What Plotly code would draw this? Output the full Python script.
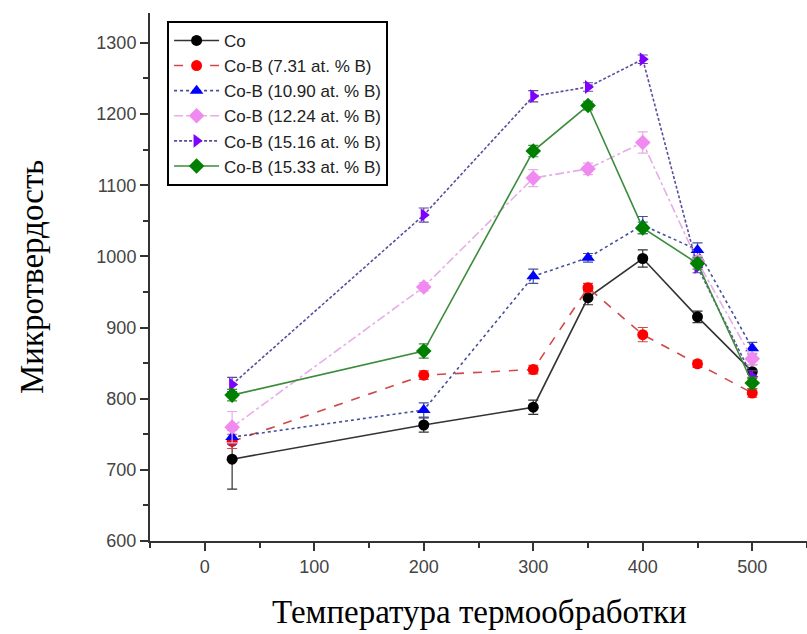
import plotly.graph_objects as go

temps = [25, 200, 300, 350, 400, 450, 500]

names = ["Co", "Co-B (7.31 at. % B)", "Co-B (10.90 at. % B)", "Co-B (12.24 at. % B)",
         "Co-B (15.16 at. % B)", "Co-B (15.33 at. % B)"]

co = [715, 763, 788, 942, 997, 915, 838]
co_err = [42, 10, 10, 10, 12, 8, 10]

cob_731 = [740, 833, 841, 956, 890, 849, 808]
cob_731_err = [10, 6, 6, 6, 10, 5, 6]

cob_1090 = [746, 784, 972, 998, 1044, 1009, 871]
cob_1090_err = [10, 10, 10, 6, 12, 10, 8]

cob_1224 = [760, 957, 1110, 1123, 1160, 993, 856]
cob_1224_err = [22, 6, 12, 8, 15, 8, 8]

cob_1516 = [820, 1058, 1225, 1238, 1277, 985, 831]
cob_1516_err = [10, 10, 8, 6, 6, 8, 8]

cob_1533 = [805, 867, 1148, 1212, 1040, 990, 822]
cob_1533_err = [8, 10, 8, 6, 8, 8, 8]

x_ticks = [0, 100, 200, 300, 400, 500]
y_ticks = [600, 700, 800, 900, 1000, 1100, 1200, 1300]

series = [
    (names[0], co, co_err, "#333333", "solid", "#000000", "circle", 11),
    (names[1], cob_731, cob_731_err, "#d04848", "dash", "#ff0000", "circle", 11),
    (names[2], cob_1090, cob_1090_err, "#44509a", "dot", "#0000ff", "triangle-up", 12),
    (names[3], cob_1224, cob_1224_err, "#e6aee6", "dashdot", "#f08af0", "diamond", 12),
    (names[4], cob_1516, cob_1516_err, "#5c4c9c", "3px,2px", "#8000ff", "triangle-right", 12),
    (names[5], cob_1533, cob_1533_err, "#3c8c3c", "solid", "#008000", "diamond", 12),
]

fig = go.Figure()
for name, vals, errs, lcol, dash, mcol, sym, msz in series:
    fig.add_trace(go.Scatter(
        x=temps, y=vals, name=name, mode="lines+markers",
        line=dict(color=lcol, width=1.6, dash=dash),
        marker=dict(color=mcol, symbol=sym, size=msz, line=dict(width=0)),
        error_y=dict(type="data", array=errs, visible=True, color=lcol,
                     thickness=1.2, width=5),
    ))

font_sans = "Liberation Sans, Arial, sans-serif"
font_serif = "Liberation Serif, Times New Roman, serif"

fig.update_layout(
    width=807, height=634,
    margin=dict(l=150, r=0, t=13, b=93),
    paper_bgcolor="white", plot_bgcolor="white",
    showlegend=True,
    legend=dict(
        x=0.026, y=0.985, xanchor="left", yanchor="top",
        bordercolor="#000000", borderwidth=2, bgcolor="white",
        font=dict(family=font_sans, size=17, color="#222222"),
        tracegroupgap=0, itemwidth=45,
    ),
    xaxis=dict(
        range=[-50, 550], tickvals=x_ticks, ticktext=[str(v) for v in x_ticks],
        showline=True, linecolor="#333333", linewidth=2,
        ticks="outside", ticklen=8, tickwidth=1.5, tickcolor="#333333",
        showgrid=False, zeroline=False,
        tickfont=dict(family=font_sans, size=18, color="#444444"),
        minor=dict(ticks="outside", ticklen=5, tickwidth=1.5, tickcolor="#333333",
                   dtick=50, tick0=0, showgrid=False),
    ),
    yaxis=dict(
        range=[600, 1342], tickvals=y_ticks, ticktext=[str(v) for v in y_ticks],
        showline=True, linecolor="#333333", linewidth=2,
        ticks="outside", ticklen=8, tickwidth=1.5, tickcolor="#333333",
        showgrid=False, zeroline=False,
        tickfont=dict(family=font_sans, size=18, color="#444444"),
        minor=dict(ticks="outside", ticklen=5, tickwidth=1.5, tickcolor="#333333",
                   dtick=50, tick0=600, showgrid=False),
    ),
    annotations=[
        dict(text="Температура термообработки", xref="paper", yref="paper",
             x=0.5008, y=-0.1345, xanchor="center", yanchor="middle", showarrow=False,
             font=dict(family=font_serif, size=33, color="#000000")),
        dict(text="Микротвердость", xref="paper", yref="paper",
             x=-0.1796, y=0.5, xanchor="center", yanchor="middle", showarrow=False,
             textangle=-90,
             font=dict(family=font_serif, size=33, color="#000000")),
    ],
)

fig.write_html("out.html")
